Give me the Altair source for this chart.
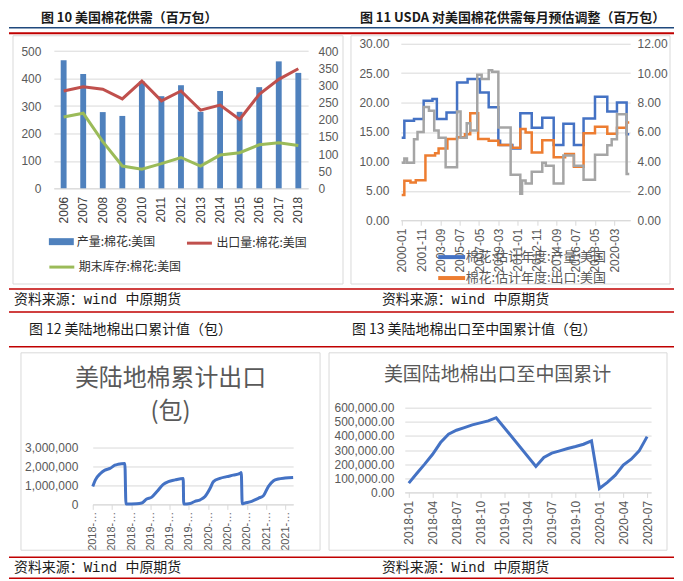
import altair as alt
import pandas as pd

CJK = "Noto Sans CJK SC"
NUM = "Liberation Sans"
MONO = "Liberation Mono, Noto Sans CJK SC"
GRID = "#d9d9d9"
AXIS_TXT = "#595959"
RED = "#C00000"

# ---------------- 图10 美国棉花供需 ----------------
years = ["2006", "2007", "2008", "2009", "2010", "2011", "2012",
         "2013", "2014", "2015", "2016", "2017", "2018"]
production = [467, 417, 278, 264, 390, 336, 376, 279, 355, 279, 369, 463, 421]
exports = [284, 296, 289, 261, 313, 255, 284, 228, 243, 201, 274, 318, 349]
stocks = [208, 219, 136, 65, 56, 72, 90, 65, 97, 104, 127, 133, 125]
names10 = ["产量:棉花:美国", "出口量:棉花:美国", "期末库存:棉花:美国"]

# ---------------- 图11 USDA 每月预估调整 (step series) ----------------
prod_name = "棉花:估计年度:产量:美国"
exp_name = "棉花:估计年度:出口:美国"
prod_dates = ["2000-01", "2000-04", "2001-03", "2002-02", "2002-12", "2003-05", "2004-04",
              "2005-04", "2006-04", "2007-06", "2008-04", "2009-03", "2009-05", "2010-07",
              "2011-04", "2012-05", "2013-05", "2014-06", "2015-05", "2016-05", "2017-04",
              "2018-05", "2019-07", "2020-06", "2021-05"]
prod_vals = [14.0, 16.9, 17.2, 20.3, 20.6, 17.2, 18.3, 23.4, 24.0, 21.7, 19.2, 13.5, 12.8,
             12.2, 18.2, 15.7, 17.4, 12.8, 16.4, 12.8, 17.3, 21.0, 18.5, 20.0, 14.6]
exp_dates = ["2000-01", "2000-04", "2000-11", "2001-05", "2002-04", "2003-03", "2003-07",
             "2004-05", "2005-04", "2006-01", "2006-07", "2007-04", "2008-04", "2009-03",
             "2010-06", "2011-04", "2011-10", "2012-05", "2013-05", "2014-06", "2015-07",
             "2016-05", "2017-04", "2018-05", "2019-07", "2020-06", "2021-05"]
exp_vals = [4.3, 6.7, 6.4, 6.8, 11.0, 11.4, 12.2, 13.8, 14.1, 14.6, 18.2, 13.8, 13.5, 12.8,
            12.3, 15.5, 14.9, 11.5, 13.6, 10.7, 11.25, 9.1, 14.8, 15.9, 14.7, 15.7, 16.6]
stock_dates = ["2000-01", "2000-04", "2000-07", "2001-03", "2001-07", "2002-02", "2002-08",
               "2003-02", "2003-07", "2004-03", "2005-04", "2005-08", "2006-03", "2006-07",
               "2007-03", "2007-08", "2008-04", "2008-08", "2009-03", "2010-05", "2011-04",
               "2011-06", "2011-10", "2012-05", "2013-05", "2013-09", "2014-06", "2015-05",
               "2016-05", "2017-04", "2018-05", "2019-07", "2019-12", "2020-06", "2021-05"]
stock_vals = [3.9, 4.2, 3.9, 5.5, 6.0, 7.7, 7.45, 6.1, 5.6, 3.6, 7.4, 5.6, 6.6, 6.1, 9.9,
              9.6, 10.2, 10.1, 6.3, 3.1, 1.8, 2.7, 2.5, 3.3, 3.9, 3.7, 2.5, 4.4, 3.7, 2.75,
              4.45, 5.1, 5.5, 7.2, 3.15]
series_end = "2021-08"
tick_months = ["2000-01", "2001-11", "2003-09", "2005-07", "2007-05", "2009-03",
               "2011-01", "2012-11", "2014-09", "2016-07", "2018-05", "2020-03"]

# ---------------- 图12 美陆地棉出口累计值 ----------------
cum_dates = ["2018-01-04", "2018-01-20", "2018-02-20", "2018-03-22", "2018-04-23",
             "2018-05-24", "2018-06-14", "2018-07-26", "2018-08-02", "2018-10-08",
             "2018-11-10", "2018-12-11", "2019-01-12", "2019-02-14", "2019-03-26",
             "2019-04-27", "2019-06-08", "2019-07-30", "2019-08-02", "2019-09-12",
             "2019-10-12", "2019-11-14", "2019-12-15", "2020-01-16", "2020-02-06",
             "2020-03-18", "2020-04-30", "2020-06-11", "2020-07-23", "2020-07-31",
             "2020-08-06", "2020-08-24", "2020-10-05", "2020-11-18", "2020-12-18",
             "2021-01-18", "2021-02-20", "2021-03-22", "2021-05-04", "2021-06-24"]
cum_vals = [930000, 1270000, 1600000, 1790000, 1880000, 2050000, 2100000, 2140000, 20000,
            30000, 70000, 280000, 380000, 670000, 1050000, 1190000, 1280000, 1360000, 20000,
            50000, 160000, 240000, 410000, 840000, 1190000, 1360000, 1450000, 1530000,
            1620000, 1670000, 30000, 70000, 160000, 330000, 450000, 930000, 1240000,
            1330000, 1380000, 1410000]
cum_ticks = ["2018-01-04", "2018-05-04", "2018-09-04", "2019-01-04", "2019-05-04",
             "2019-09-04", "2020-01-04", "2020-05-04", "2020-09-04", "2021-01-04",
             "2021-05-04"]

# ---------------- 图13 美陆地棉出口至中国累计值 ----------------
all_months13 = ["2018-01", "2018-02", "2018-03", "2018-04", "2018-05", "2018-06", "2018-07",
                "2018-08", "2018-09", "2018-10", "2018-11", "2018-12", "2019-01", "2019-02",
                "2019-03", "2019-04", "2019-05", "2019-06", "2019-07", "2019-08", "2019-09",
                "2019-10", "2019-11", "2019-12", "2020-01", "2020-02", "2020-03", "2020-04",
                "2020-05", "2020-06", "2020-07"]
china_months = ["2018-01", "2018-02", "2018-03", "2018-04", "2018-05", "2018-06", "2018-07",
                "2018-08", "2018-09", "2018-10", "2018-11", "2018-12", "2019-05", "2019-06",
                "2019-07", "2019-08", "2019-09", "2019-10", "2019-11", "2019-12", "2020-01",
                "2020-02", "2020-03", "2020-04", "2020-05", "2020-06", "2020-07"]
china_vals = [66000, 134000, 200000, 270000, 353000, 412000, 440000, 459000, 478000, 492000,
              506000, 529000, 184000, 247000, 278000, 294000, 311000, 325000, 341000, 365000,
              28000, 71000, 122000, 193000, 235000, 294000, 395000]
ticks13 = ["2018-01", "2018-04", "2018-07", "2018-10", "2019-01", "2019-04", "2019-07",
           "2019-10", "2020-01", "2020-04", "2020-07"]

# ---------------- helpers ----------------
one = pd.DataFrame({"k": [0]})


def frame(x0, x1, y0, y1):
    return alt.Chart(one).mark_rect(fill="transparent", stroke=GRID, strokeWidth=1).encode(
        x=alt.value(x0), x2=alt.value(x1), y=alt.value(y0), y2=alt.value(y1))


def extender(x):
    return alt.Chart(one).mark_rule(strokeOpacity=0).encode(
        x=alt.value(x), y=alt.value(0), y2=alt.value(1))


def spacer():
    return alt.Chart(one).mark_rule(strokeOpacity=0).encode(
        x=alt.value(0), y=alt.value(0), y2=alt.value(1)).properties(width=1, height=1)


def label(text, x, y, size, color="#1a1a1a", weight="normal", align="left", font=CJK):
    return alt.Chart(one).mark_text(
        align=align, baseline="middle", fontSize=size, fontWeight=weight, color=color, font=font
    ).encode(x=alt.value(x), y=alt.value(y), text=alt.value(text))


def hline(x0, x1, y, color, w):
    return alt.Chart(one).mark_rule(color=color, strokeWidth=w).encode(
        x=alt.value(x0), x2=alt.value(x1), y=alt.value(y))


def leg(x, y, sym, size, sw, fsize=12, color="#333333"):
    return alt.Legend(title=None, orient="none", legendX=x, legendY=y, symbolType=sym,
                      symbolSize=size, symbolStrokeWidth=sw, labelFont=CJK,
                      labelFontSize=fsize, labelColor=color, padding=0, labelOffset=3)


# ---------------- chart 10 ----------------
# plot top is level with chart 11's plot top; the 500 / 400 gridline sits 7 px lower
W10, H10 = 255, 145
TOP10 = 145 / 137.5
df10 = pd.DataFrame({"year": years, "production": production, "exports": exports,
                     "stocks": stocks, "s1": names10[0], "s2": names10[1], "s3": names10[2]})
base10 = alt.Chart(df10).encode(
    x=alt.X("year:N", title=None, scale=alt.Scale(paddingInner=0, paddingOuter=0),
            axis=alt.Axis(labelAngle=-90, labelPadding=8, ticks=False, domainColor=GRID,
                          labelColor="#404040", labelFontSize=12)))
bars10 = base10.mark_bar(width={"band": 0.3}).encode(
    y=alt.Y("production:Q", title=None, scale=alt.Scale(domain=[0, 500 * TOP10], nice=False),
            axis=alt.Axis(values=[0, 100, 200, 300, 400, 500], orient="left", ticks=False,
                          domain=False, labelPadding=13, gridColor=GRID)),
    color=alt.Color("s1:N", scale=alt.Scale(range=["#4F81BD"]),
                    legend=leg(-5, 186, "M-1,-0.28H1V0.28H-1Z", 625, 0)))
red10 = base10.mark_line(strokeWidth=3).encode(
    y=alt.Y("exports:Q", title=None, scale=alt.Scale(domain=[0, 400 * TOP10], nice=False),
            axis=alt.Axis(values=[0, 50, 100, 150, 200, 250, 300, 350, 400], orient="right",
                          ticks=False, domain=False, grid=False, labelPadding=10)),
    color=alt.Color("s2:N", scale=alt.Scale(range=["#C0504D"]),
                    legend=leg(132, 186, "stroke", 625, 3)))
green10 = base10.mark_line(strokeWidth=3).encode(
    y=alt.Y("stocks:Q", title=None, scale=alt.Scale(domain=[0, 400 * TOP10], nice=False),
            axis=None),
    color=alt.Color("s3:N", scale=alt.Scale(range=["#9BBB59"]),
                    legend=leg(-6, 210, "stroke", 625, 3)))
c10 = alt.layer(extender(-44), frame(-41, 290, -8, 241), bars10, red10, green10).resolve_scale(
    y="independent", color="independent").resolve_legend(color="independent").properties(
    width=W10, height=H10)

# ---------------- chart 11 ----------------
W11, H11 = 230, 177


def month_index(s):
    y, m = s.split("-")
    return (int(y) - 2000) * 12 + int(m) - 1


def step_rows(dates, vals, name):
    rows = [{"m": month_index(d), "v": v, "series": name} for d, v in zip(dates, vals)]
    rows.append({"m": month_index(series_end), "v": vals[-1], "series": name})
    return rows


df11 = pd.DataFrame(step_rows(prod_dates, prod_vals, prod_name) +
                    step_rows(exp_dates, exp_vals, exp_name))
dfg = pd.DataFrame(step_rows(stock_dates, stock_vals, "stock"))
x11 = alt.X("m:Q", title=None, scale=alt.Scale(domain=[-1, 260], nice=False, zero=False),
            axis=alt.Axis(values=[month_index(t) for t in tick_months], labelAngle=-90,
                          labelExpr="(2000 + floor(datum.value / 12)) + '-' + ((datum.value % 12) < 9 ? '0' : '') + ((datum.value % 12) + 1)",
                          grid=False, tickSize=5, labelPadding=3, labelOverlap=False,
                          labelFlush=False, domainColor=GRID, tickColor=GRID))
lines11 = alt.Chart(df11).mark_line(interpolate="step-after", strokeWidth=2.5).encode(
    x=x11,
    y=alt.Y("v:Q", title=None, scale=alt.Scale(domain=[0, 30], nice=False),
            axis=alt.Axis(values=[0, 5, 10, 15, 20, 25, 30], format=".2f", orient="left",
                          ticks=False, domain=False, labelPadding=12, gridColor=GRID)),
    color=alt.Color("series:N", scale=alt.Scale(domain=[prod_name, exp_name],
                                                range=["#4472C4", "#ED7D31"]),
                    legend=alt.Legend(title=None, orient="none", legendX=42, legendY=205,
                                      direction="vertical", symbolType="M-2,0H2",
                                      symbolSize=182, symbolStrokeWidth=4, labelFont=CJK,
                                      labelFontSize=13, labelColor=AXIS_TXT, padding=0,
                                      rowPadding=4, labelOffset=5)))
gray11 = alt.Chart(dfg).mark_line(interpolate="step-after", strokeWidth=2.5,
                                  color="#A5A5A5").encode(
    x=x11,
    y=alt.Y("v:Q", title=None, scale=alt.Scale(domain=[0, 12], nice=False),
            axis=alt.Axis(values=[0, 2, 4, 6, 8, 10, 12], format=".2f", orient="right",
                          ticks=False, domain=False, grid=False, labelPadding=7)))
c11 = alt.layer(extender(-57), frame(-50, 270, -8, 241), lines11, gray11).resolve_scale(
    y="independent").properties(width=W11, height=H11)

# ---------------- chart 12 ----------------
# plot top level with chart 13's plot top; gridlines stop at 3,000,000
W12, H12 = 201, 97
TOP12 = 97 / 57.5


def dt(s):
    y, m, d = s.split("-")
    return alt.DateTime(year=int(y), month=int(m), date=int(d), utc=True)


df12 = pd.DataFrame({"date": cum_dates, "value": cum_vals})
line12 = alt.Chart(df12).mark_line(color="#4472C4", strokeWidth=3,
                                   interpolate="monotone").encode(
    x=alt.X("date:T", title=None,
            scale=alt.Scale(domain=[dt(cum_dates[0]), dt(cum_dates[-1])], nice=False),
            axis=alt.Axis(values=[dt(t) for t in cum_ticks], labelAngle=-90,
                          labelExpr="utcFormat(datum.value, '%Y') + '-…'", grid=False,
                          tickSize=5, labelPadding=2, labelFontSize=11, labelOverlap=False,
                          labelFlush=False, domainColor=GRID, tickColor=GRID)),
    y=alt.Y("value:Q", title=None, scale=alt.Scale(domain=[0, 3000000 * TOP12], nice=False),
            axis=alt.Axis(values=[0, 1000000, 2000000, 3000000], format=",d", ticks=False,
                          domain=False, labelPadding=15, gridColor=GRID)))
c12 = alt.layer(extender(-83), frame(-72, 228, -55, 143),
                label("美陆地棉累计出口", 78, -29, 24, color=AXIS_TXT, align="center"),
                label("(包)", 78, 4, 24, color=AXIS_TXT, align="center"),
                line12).properties(width=W12, height=H12)

# ---------------- chart 13 ----------------
W13, H13 = 247, 85
df13 = pd.DataFrame({"month": china_months, "value": china_vals})
line13 = alt.Chart(df13).mark_line(color="#4472C4", strokeWidth=3).encode(
    x=alt.X("month:O", title=None,
            scale=alt.Scale(type="point", padding=0.5, domain=all_months13),
            axis=alt.Axis(values=ticks13, labelAngle=-90, grid=False, tickSize=5,
                          labelPadding=3, domainColor=GRID, tickColor=GRID)),
    y=alt.Y("value:Q", title=None, scale=alt.Scale(domain=[0, 600000], nice=False),
            axis=alt.Axis(values=[0, 100000, 200000, 300000, 400000, 500000, 600000],
                          format=",.2f", ticks=False, domain=False, labelPadding=11,
                          gridColor=GRID)))
c13 = alt.layer(extender(-84), frame(-76, 263, -55, 143),
                label("美国陆地棉出口至中国累计", 93, -33, 19, color=AXIS_TXT, align="center"),
                line13).properties(width=W13, height=H13)

# ---------------- header / footer strips ----------------
SW = 667
r1 = alt.layer(
    label("图 10 美国棉花供需（百万包）", 32, 9, 13, weight="bold"),
    label("图 11 USDA 对美国棉花供需每月预估调整（百万包）", 352, 9, 13, weight="bold"),
    hline(0, SW, 19, "#1F497D", 1.5),
    hline(0, SW, 24.5, RED, 2),
).properties(width=SW, height=26)

r3 = alt.layer(
    hline(0, SW, 3, RED, 1.5),
    label("资料来源：wind 中原期货", 5, 14, 14, font=MONO),
    label("资料来源：wind 中原期货", 374, 14, 14, font=MONO),
    hline(0, SW, 26, RED, 1.5),
    label("图 12 美陆地棉出口累计值（包）", 20, 44, 14),
    label("图 13 美陆地棉出口至中国累计值（包）", 344, 44, 14),
    hline(0, SW, 61, RED, 1.5),
).properties(width=SW, height=66)

r5 = alt.layer(
    hline(0, SW, 6, RED, 1.5),
    label("资料来源：Wind 中原期货", 5, 17, 14, font=MONO),
    label("资料来源：Wind 中原期货", 374, 17, 14, font=MONO),
    hline(0, SW, 27, RED, 1.5),
).properties(width=SW, height=28)

row2 = alt.concat(spacer(), c10, c11, columns=3, align="none", spacing=0).resolve_scale(
    color="independent").resolve_legend(color="independent")
row4 = alt.concat(spacer(), c12, c13, columns=3, align="none", spacing=0)

chart = alt.concat(
    r1, row2, r3, row4, r5,
    columns=1, align="none", spacing=0,
).resolve_scale(color="independent").resolve_legend(color="independent").properties(
    padding=0).configure_view(strokeWidth=0).configure_axis(
    labelFont=NUM, labelFontSize=12, labelColor=AXIS_TXT, gridColor=GRID,
    domainColor=GRID, tickColor=GRID)

chart.save("out.html", embed_options={"renderer": "svg", "actions": False})
